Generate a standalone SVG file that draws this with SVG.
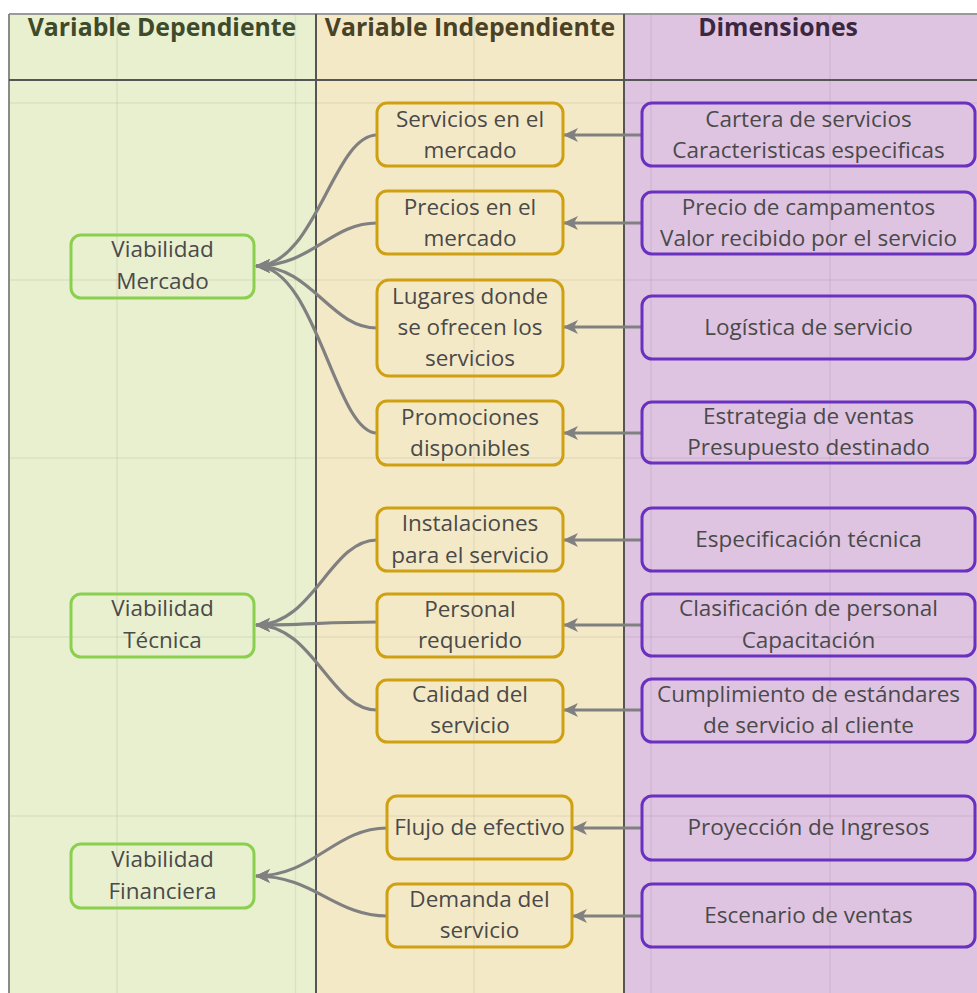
<svg xmlns="http://www.w3.org/2000/svg" width="977" height="993" viewBox="0 0 977 993">
<style>
.hdr{font-family:"Open Sans","Liberation Sans",sans-serif;font-weight:bold;font-size:24.8px;text-anchor:middle}
.t{font-family:"Open Sans","Liberation Sans",sans-serif;font-size:22.5px;fill:#4a4a4a;text-anchor:middle}
.g{fill:none;stroke:#8ad04e;stroke-width:3}
.y{fill:none;stroke:#cfa011;stroke-width:3}
.p{fill:none;stroke:#6a30c0;stroke-width:3}
.grid{stroke:#000;stroke-opacity:0.06;stroke-width:1.5}
.c{fill:none;stroke:#808080;stroke-width:3.2;marker-end:url(#ah)}
</style>
<defs>
<marker id="ah" markerUnits="userSpaceOnUse" markerWidth="17" markerHeight="17" viewBox="0 0 17 17" refX="15" refY="8.5" orient="auto">
<path d="M1,1.5 L16,8.5 L1,15.5 L5,8.5 Z" fill="#808080"/>
</marker>
</defs>
<rect x="0" y="0" width="977" height="993" fill="#ffffff"/>
<g id="columns">
<rect x="9" y="14" width="307" height="979" fill="#e9f0d0"/>
<rect x="316" y="14" width="308" height="979" fill="#f4e9c6"/>
<rect x="624" y="14" width="353" height="979" fill="#dfc4e2"/>
</g>
<g id="grid">
<line class="grid" x1="117" y1="14" x2="117" y2="993"/>
<line class="grid" x1="295.5" y1="14" x2="295.5" y2="993"/>
<line class="grid" x1="474" y1="14" x2="474" y2="993"/>
<line class="grid" x1="651" y1="14" x2="651" y2="993"/>
<line class="grid" x1="830" y1="14" x2="830" y2="993"/>
<line class="grid" x1="9" y1="103" x2="977" y2="103"/>
<line class="grid" x1="9" y1="280" x2="977" y2="280"/>
<line class="grid" x1="9" y1="458" x2="977" y2="458"/>
<line class="grid" x1="9" y1="637" x2="977" y2="637"/>
<line class="grid" x1="9" y1="816" x2="977" y2="816"/>
</g>
<g id="frame" stroke-width="2" fill="none">
<line x1="9" y1="14" x2="977" y2="14" stroke="#9a9a9a"/>
<line x1="9" y1="14" x2="9" y2="993" stroke="#8a8a8a"/>
<line x1="9" y1="80" x2="977" y2="80" stroke="#555"/>
<line x1="316" y1="14" x2="316" y2="993" stroke="#555"/>
<line x1="624" y1="14" x2="624" y2="993" stroke="#555"/>
</g>
<g id="headers">
<text class="hdr" x="162" y="36" fill="#3e4a2a">Variable Dependiente</text>
<text class="hdr" x="470" y="36" fill="#4a4226">Variable Independiente</text>
<text class="hdr" x="778" y="36" fill="#3a2740">Dimensiones</text>
</g>
<g id="connectors">
<path class="c" d="M377,135 C333,135 316,266 256,266"/>
<path class="c" d="M377,223 C330,223 312,266 256,266"/>
<path class="c" d="M377,328 C330,328 312,266 256,266"/>
<path class="c" d="M377,433 C335,433 316,266 256,266"/>
<path class="c" d="M377,540 C330,540 314,625 256,625"/>
<path class="c" d="M377,622 C330,622 300,625 256,625"/>
<path class="c" d="M377,710 C330,710 314,625 256,625"/>
<path class="c" d="M387,828 C335,828 314,876 256,876"/>
<path class="c" d="M387,916 C335,916 314,876 256,876"/>
<path class="c" d="M641,135 L564,135"/>
<path class="c" d="M641,223 L564,223"/>
<path class="c" d="M641,327 L564,327"/>
<path class="c" d="M641,433 L564,433"/>
<path class="c" d="M641,540 L564,540"/>
<path class="c" d="M641,625 L564,625"/>
<path class="c" d="M641,710 L564,710"/>
<path class="c" d="M641,828 L573,828"/>
<path class="c" d="M641,916 L573,916"/>
</g>
<g id="n-mercado"><rect class="g" x="71" y="235" width="183" height="63" rx="10"/><text class="t" x="162.5" y="257">Viabilidad</text><text class="t" x="162.5" y="289">Mercado</text></g>
<g id="n-tecnica"><rect class="g" x="71" y="594" width="183" height="63" rx="10"/><text class="t" x="162.5" y="616">Viabilidad</text><text class="t" x="162.5" y="648">Técnica</text></g>
<g id="n-financiera"><rect class="g" x="71" y="844" width="183" height="64" rx="10"/><text class="t" x="162.5" y="867">Viabilidad</text><text class="t" x="162.5" y="899">Financiera</text></g>

<g id="n-servicios"><rect class="y" x="377" y="103" width="186" height="63" rx="10"/><text class="t" x="470" y="127">Servicios en el</text><text class="t" x="470" y="158">mercado</text></g>
<g id="n-precios"><rect class="y" x="377" y="191" width="186" height="63" rx="10"/><text class="t" x="470" y="215">Precios en el</text><text class="t" x="470" y="246">mercado</text></g>
<g id="n-lugares"><rect class="y" x="377" y="280" width="186" height="96" rx="12"/><text class="t" x="470" y="304">Lugares donde</text><text class="t" x="470" y="335">se ofrecen los</text><text class="t" x="470" y="366">servicios</text></g>
<g id="n-promociones"><rect class="y" x="377" y="401" width="186" height="64" rx="10"/><text class="t" x="470" y="425">Promociones</text><text class="t" x="470" y="456">disponibles</text></g>
<g id="n-instalaciones"><rect class="y" x="377" y="508" width="186" height="63" rx="10"/><text class="t" x="470" y="531">Instalaciones</text><text class="t" x="470" y="563">para el servicio</text></g>
<g id="n-personal"><rect class="y" x="377" y="594" width="186" height="63" rx="10"/><text class="t" x="470" y="617">Personal</text><text class="t" x="470" y="648">requerido</text></g>
<g id="n-calidad"><rect class="y" x="377" y="680" width="186" height="62" rx="10"/><text class="t" x="470" y="702">Calidad del</text><text class="t" x="470" y="733">servicio</text></g>
<g id="n-flujo"><rect class="y" x="387" y="796" width="185" height="63" rx="10"/><text class="t" x="479.5" y="835">Flujo de efectivo</text></g>
<g id="n-demanda"><rect class="y" x="387" y="884" width="185" height="63" rx="10"/><text class="t" x="479.5" y="907">Demanda del</text><text class="t" x="479.5" y="938">servicio</text></g>

<g id="n-cartera"><rect class="p" x="642" y="103" width="333" height="63" rx="10"/><text class="t" x="808.5" y="127">Cartera de servicios</text><text class="t" x="808.5" y="158">Caracteristicas especificas</text></g>
<g id="n-precio-camp"><rect class="p" x="642" y="192" width="333" height="62" rx="10"/><text class="t" x="808.5" y="215">Precio de campamentos</text><text class="t" x="808.5" y="246">Valor recibido por el servicio</text></g>
<g id="n-logistica"><rect class="p" x="642" y="296" width="333" height="63" rx="10"/><text class="t" x="808.5" y="335">Logística de servicio</text></g>
<g id="n-estrategia"><rect class="p" x="642" y="402" width="333" height="61" rx="10"/><text class="t" x="808.5" y="424">Estrategia de ventas</text><text class="t" x="808.5" y="455">Presupuesto destinado</text></g>
<g id="n-especificacion"><rect class="p" x="642" y="508" width="333" height="63" rx="10"/><text class="t" x="808.5" y="547">Especificación técnica</text></g>
<g id="n-clasificacion"><rect class="p" x="642" y="594" width="333" height="62" rx="10"/><text class="t" x="808.5" y="616">Clasificación de personal</text><text class="t" x="808.5" y="648">Capacitación</text></g>
<g id="n-cumplimiento"><rect class="p" x="642" y="679" width="333" height="63" rx="10"/><text class="t" x="808.5" y="702">Cumplimiento de estándares</text><text class="t" x="808.5" y="733">de servicio al cliente</text></g>
<g id="n-proyeccion"><rect class="p" x="642" y="796" width="333" height="64" rx="10"/><text class="t" x="808.5" y="835">Proyección de Ingresos</text></g>
<g id="n-escenario"><rect class="p" x="642" y="884" width="333" height="63" rx="10"/><text class="t" x="808.5" y="923">Escenario de ventas</text></g>
</svg>
